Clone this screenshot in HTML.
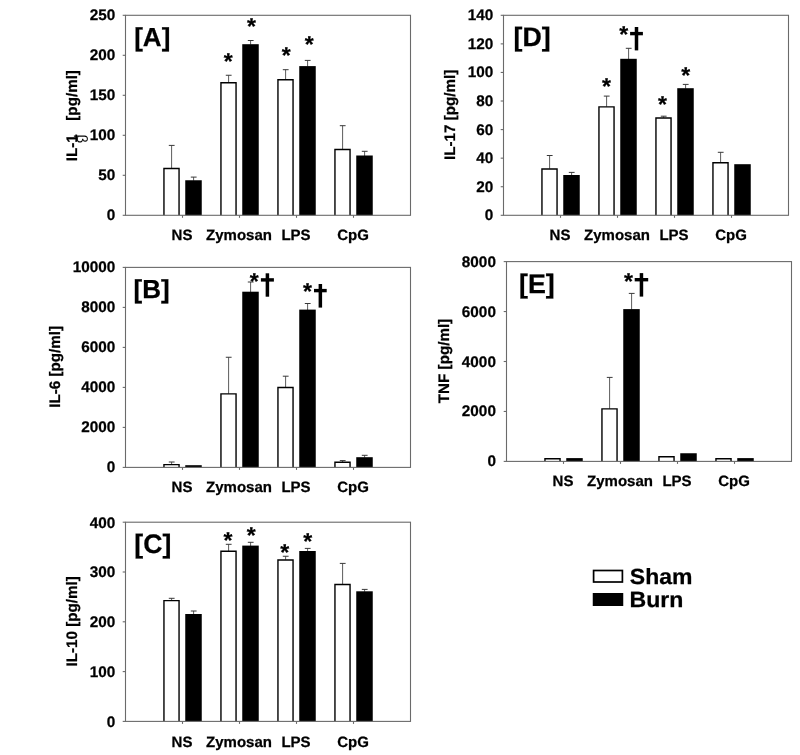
<!DOCTYPE html>
<html><head><meta charset="utf-8"><title>Figure</title>
<style>html,body{margin:0;padding:0;background:#fff}svg{display:block;filter:grayscale(1)}text{font-family:"Liberation Sans", sans-serif;font-weight:bold;fill:#000;text-rendering:geometricPrecision;stroke:#000;stroke-width:0.25px}.t15{font-size:15.3px}.xl{font-size:15px}.yl{font-size:15.2px}.t26{font-size:26px}.st{font-size:23px}.t22{font-size:22px}</style></head><body>
<svg width="800" height="755" viewBox="0 0 800 755">
<rect width="800" height="755" fill="#fff"/>
<line x1="122.7" y1="215.30" x2="125.5" y2="215.30" stroke="#6a6a6a" stroke-width="1.1"/>
<text x="115.2" y="220.30" text-anchor="end" class="t15">0</text>
<line x1="122.7" y1="175.30" x2="125.5" y2="175.30" stroke="#6a6a6a" stroke-width="1.1"/>
<text x="115.2" y="180.30" text-anchor="end" class="t15">50</text>
<line x1="122.7" y1="135.30" x2="125.5" y2="135.30" stroke="#6a6a6a" stroke-width="1.1"/>
<text x="115.2" y="140.30" text-anchor="end" class="t15">100</text>
<line x1="122.7" y1="95.30" x2="125.5" y2="95.30" stroke="#6a6a6a" stroke-width="1.1"/>
<text x="115.2" y="100.30" text-anchor="end" class="t15">150</text>
<line x1="122.7" y1="55.30" x2="125.5" y2="55.30" stroke="#6a6a6a" stroke-width="1.1"/>
<text x="115.2" y="60.30" text-anchor="end" class="t15">200</text>
<line x1="122.7" y1="15.30" x2="125.5" y2="15.30" stroke="#6a6a6a" stroke-width="1.1"/>
<text x="115.2" y="20.30" text-anchor="end" class="t15">250</text>
<line x1="182.5" y1="215.3" x2="182.5" y2="217.8" stroke="#6a6a6a" stroke-width="1.1"/>
<line x1="239.5" y1="215.3" x2="239.5" y2="217.8" stroke="#6a6a6a" stroke-width="1.1"/>
<line x1="296.5" y1="215.3" x2="296.5" y2="217.8" stroke="#6a6a6a" stroke-width="1.1"/>
<line x1="353.5" y1="215.3" x2="353.5" y2="217.8" stroke="#6a6a6a" stroke-width="1.1"/>
<text x="182.0" y="239.89999999999998" text-anchor="middle" class="xl">NS</text>
<text x="239.0" y="239.89999999999998" text-anchor="middle" class="xl">Zymosan</text>
<text x="296.0" y="239.89999999999998" text-anchor="middle" class="xl">LPS</text>
<text x="353.0" y="239.89999999999998" text-anchor="middle" class="xl">CpG</text>
<text transform="translate(134.2,46) scale(1.0000)" class="t26">[A]</text>
<text transform="translate(77.0,161.2) rotate(-90)" class="yl">IL-1</text>
<text transform="translate(77.0,120.7) rotate(-90)" class="yl">[pg/ml]</text>
<line x1="171.60" y1="145.4" x2="171.60" y2="168.25" stroke="#5c5c5c" stroke-width="1"/>
<line x1="168.80" y1="145.4" x2="174.60" y2="145.4" stroke="#383838" stroke-width="1"/>
<path d="M163.95 215.3V168.45H179.05V215.3" fill="#fff" stroke="#000" stroke-width="1.4"/>
<line x1="193.60" y1="177.1" x2="193.60" y2="180.75" stroke="#5c5c5c" stroke-width="1"/>
<line x1="190.80" y1="177.1" x2="196.60" y2="177.1" stroke="#383838" stroke-width="1"/>
<rect x="185.25" y="180.25" width="16.5" height="35.05" fill="#000"/>
<line x1="228.60" y1="75.25" x2="228.60" y2="82.5" stroke="#5c5c5c" stroke-width="1"/>
<line x1="225.80" y1="75.25" x2="231.60" y2="75.25" stroke="#383838" stroke-width="1"/>
<path d="M220.95 215.3V82.70H236.05V215.3" fill="#fff" stroke="#000" stroke-width="1.4"/>
<line x1="250.60" y1="40.5" x2="250.60" y2="44.7" stroke="#5c5c5c" stroke-width="1"/>
<line x1="247.80" y1="40.5" x2="253.60" y2="40.5" stroke="#383838" stroke-width="1"/>
<rect x="242.25" y="44.20" width="16.5" height="171.10" fill="#000"/>
<line x1="285.60" y1="69.7" x2="285.60" y2="79.5" stroke="#5c5c5c" stroke-width="1"/>
<line x1="282.80" y1="69.7" x2="288.60" y2="69.7" stroke="#383838" stroke-width="1"/>
<path d="M277.95 215.3V79.70H293.05V215.3" fill="#fff" stroke="#000" stroke-width="1.4"/>
<line x1="307.60" y1="60.4" x2="307.60" y2="66.6" stroke="#5c5c5c" stroke-width="1"/>
<line x1="304.80" y1="60.4" x2="310.60" y2="60.4" stroke="#383838" stroke-width="1"/>
<rect x="299.25" y="66.10" width="16.5" height="149.20" fill="#000"/>
<line x1="342.60" y1="125.7" x2="342.60" y2="149.3" stroke="#5c5c5c" stroke-width="1"/>
<line x1="339.80" y1="125.7" x2="345.60" y2="125.7" stroke="#383838" stroke-width="1"/>
<path d="M334.95 215.3V149.50H350.05V215.3" fill="#fff" stroke="#000" stroke-width="1.4"/>
<line x1="364.60" y1="151.3" x2="364.60" y2="156.0" stroke="#5c5c5c" stroke-width="1"/>
<line x1="361.80" y1="151.3" x2="367.60" y2="151.3" stroke="#383838" stroke-width="1"/>
<rect x="356.25" y="155.50" width="16.5" height="59.80" fill="#000"/>
<rect x="125.5" y="15.3" width="285.0" height="200.0" fill="none" stroke="#6a6a6a" stroke-width="1.1"/>
<text x="228.3" y="69.17" text-anchor="middle" class="st">*</text>
<text x="251.4" y="34.27" text-anchor="middle" class="st">*</text>
<text x="286.2" y="63.37" text-anchor="middle" class="st">*</text>
<text x="309.3" y="51.97" text-anchor="middle" class="st">*</text>
<line x1="500.7" y1="215.30" x2="503.5" y2="215.30" stroke="#6a6a6a" stroke-width="1.1"/>
<text x="493.2" y="220.30" text-anchor="end" class="t15">0</text>
<line x1="500.7" y1="186.73" x2="503.5" y2="186.73" stroke="#6a6a6a" stroke-width="1.1"/>
<text x="493.2" y="191.73" text-anchor="end" class="t15">20</text>
<line x1="500.7" y1="158.16" x2="503.5" y2="158.16" stroke="#6a6a6a" stroke-width="1.1"/>
<text x="493.2" y="163.16" text-anchor="end" class="t15">40</text>
<line x1="500.7" y1="129.59" x2="503.5" y2="129.59" stroke="#6a6a6a" stroke-width="1.1"/>
<text x="493.2" y="134.59" text-anchor="end" class="t15">60</text>
<line x1="500.7" y1="101.01" x2="503.5" y2="101.01" stroke="#6a6a6a" stroke-width="1.1"/>
<text x="493.2" y="106.01" text-anchor="end" class="t15">80</text>
<line x1="500.7" y1="72.44" x2="503.5" y2="72.44" stroke="#6a6a6a" stroke-width="1.1"/>
<text x="493.2" y="77.44" text-anchor="end" class="t15">100</text>
<line x1="500.7" y1="43.87" x2="503.5" y2="43.87" stroke="#6a6a6a" stroke-width="1.1"/>
<text x="493.2" y="48.87" text-anchor="end" class="t15">120</text>
<line x1="500.7" y1="15.30" x2="503.5" y2="15.30" stroke="#6a6a6a" stroke-width="1.1"/>
<text x="493.2" y="20.30" text-anchor="end" class="t15">140</text>
<line x1="560.5" y1="215.3" x2="560.5" y2="217.8" stroke="#6a6a6a" stroke-width="1.1"/>
<line x1="617.5" y1="215.3" x2="617.5" y2="217.8" stroke="#6a6a6a" stroke-width="1.1"/>
<line x1="674.5" y1="215.3" x2="674.5" y2="217.8" stroke="#6a6a6a" stroke-width="1.1"/>
<line x1="731.5" y1="215.3" x2="731.5" y2="217.8" stroke="#6a6a6a" stroke-width="1.1"/>
<text x="560.0" y="239.89999999999998" text-anchor="middle" class="xl">NS</text>
<text x="617.0" y="239.89999999999998" text-anchor="middle" class="xl">Zymosan</text>
<text x="674.0" y="239.89999999999998" text-anchor="middle" class="xl">LPS</text>
<text x="731.0" y="239.89999999999998" text-anchor="middle" class="xl">CpG</text>
<text transform="translate(513.5,46) scale(1.0269)" class="t26">[D]</text>
<text transform="translate(455.1,114.80000000000001) rotate(-90)" text-anchor="middle" class="yl">IL-17 [pg/ml]</text>
<line x1="549.60" y1="155.5" x2="549.60" y2="168.75" stroke="#5c5c5c" stroke-width="1"/>
<line x1="546.80" y1="155.5" x2="552.60" y2="155.5" stroke="#383838" stroke-width="1"/>
<path d="M541.95 215.3V168.95H557.05V215.3" fill="#fff" stroke="#000" stroke-width="1.4"/>
<line x1="571.60" y1="172.4" x2="571.60" y2="175.5" stroke="#5c5c5c" stroke-width="1"/>
<line x1="568.80" y1="172.4" x2="574.60" y2="172.4" stroke="#383838" stroke-width="1"/>
<rect x="563.25" y="175.00" width="16.5" height="40.30" fill="#000"/>
<line x1="606.60" y1="96.1" x2="606.60" y2="106.7" stroke="#5c5c5c" stroke-width="1"/>
<line x1="603.80" y1="96.1" x2="609.60" y2="96.1" stroke="#383838" stroke-width="1"/>
<path d="M598.95 215.3V106.90H614.05V215.3" fill="#fff" stroke="#000" stroke-width="1.4"/>
<line x1="628.60" y1="48.3" x2="628.60" y2="59.3" stroke="#5c5c5c" stroke-width="1"/>
<line x1="625.80" y1="48.3" x2="631.60" y2="48.3" stroke="#383838" stroke-width="1"/>
<rect x="620.25" y="58.80" width="16.5" height="156.50" fill="#000"/>
<line x1="663.60" y1="116.2" x2="663.60" y2="117.8" stroke="#5c5c5c" stroke-width="1"/>
<line x1="660.80" y1="116.2" x2="666.60" y2="116.2" stroke="#383838" stroke-width="1"/>
<path d="M655.95 215.3V118.00H671.05V215.3" fill="#fff" stroke="#000" stroke-width="1.4"/>
<line x1="685.60" y1="84.4" x2="685.60" y2="88.7" stroke="#5c5c5c" stroke-width="1"/>
<line x1="682.80" y1="84.4" x2="688.60" y2="84.4" stroke="#383838" stroke-width="1"/>
<rect x="677.25" y="88.20" width="16.5" height="127.10" fill="#000"/>
<line x1="720.60" y1="152.3" x2="720.60" y2="162.5" stroke="#5c5c5c" stroke-width="1"/>
<line x1="717.80" y1="152.3" x2="723.60" y2="152.3" stroke="#383838" stroke-width="1"/>
<path d="M712.95 215.3V162.70H728.05V215.3" fill="#fff" stroke="#000" stroke-width="1.4"/>
<rect x="734.25" y="164.20" width="16.5" height="51.10" fill="#000"/>
<rect x="503.5" y="15.3" width="285.0" height="200.0" fill="none" stroke="#6a6a6a" stroke-width="1.1"/>
<text x="606.5" y="94.47" text-anchor="middle" class="st">*</text>
<text x="623.7" y="42.07" text-anchor="middle" class="st">*</text>
<text x="662.6" y="112.02" text-anchor="middle" class="st">*</text>
<text x="685.8" y="82.67" text-anchor="middle" class="st">*</text>
<rect x="634.75" y="27.0" width="3.5" height="23.40" fill="#000"/>
<rect x="630.1" y="31.90" width="12.80" height="3.4" fill="#000"/>
<line x1="122.7" y1="467.40" x2="125.5" y2="467.40" stroke="#6a6a6a" stroke-width="1.1"/>
<text x="115.2" y="472.40" text-anchor="end" class="t15">0</text>
<line x1="122.7" y1="427.40" x2="125.5" y2="427.40" stroke="#6a6a6a" stroke-width="1.1"/>
<text x="115.2" y="432.40" text-anchor="end" class="t15">2000</text>
<line x1="122.7" y1="387.40" x2="125.5" y2="387.40" stroke="#6a6a6a" stroke-width="1.1"/>
<text x="115.2" y="392.40" text-anchor="end" class="t15">4000</text>
<line x1="122.7" y1="347.40" x2="125.5" y2="347.40" stroke="#6a6a6a" stroke-width="1.1"/>
<text x="115.2" y="352.40" text-anchor="end" class="t15">6000</text>
<line x1="122.7" y1="307.40" x2="125.5" y2="307.40" stroke="#6a6a6a" stroke-width="1.1"/>
<text x="115.2" y="312.40" text-anchor="end" class="t15">8000</text>
<line x1="122.7" y1="267.40" x2="125.5" y2="267.40" stroke="#6a6a6a" stroke-width="1.1"/>
<text x="115.2" y="272.40" text-anchor="end" class="t15">10000</text>
<line x1="182.5" y1="467.4" x2="182.5" y2="469.9" stroke="#6a6a6a" stroke-width="1.1"/>
<line x1="239.5" y1="467.4" x2="239.5" y2="469.9" stroke="#6a6a6a" stroke-width="1.1"/>
<line x1="296.5" y1="467.4" x2="296.5" y2="469.9" stroke="#6a6a6a" stroke-width="1.1"/>
<line x1="353.5" y1="467.4" x2="353.5" y2="469.9" stroke="#6a6a6a" stroke-width="1.1"/>
<text x="182.0" y="492.0" text-anchor="middle" class="xl">NS</text>
<text x="239.0" y="492.0" text-anchor="middle" class="xl">Zymosan</text>
<text x="296.0" y="492.0" text-anchor="middle" class="xl">LPS</text>
<text x="353.0" y="492.0" text-anchor="middle" class="xl">CpG</text>
<text transform="translate(133.6,298) scale(1.0000)" class="t26">[B]</text>
<text transform="translate(59.8,366.9) rotate(-90)" text-anchor="middle" class="yl">IL-6 [pg/ml]</text>
<line x1="171.60" y1="462" x2="171.60" y2="464.4" stroke="#5c5c5c" stroke-width="1"/>
<line x1="168.80" y1="462" x2="174.60" y2="462" stroke="#383838" stroke-width="1"/>
<path d="M163.95 467.4V464.60H179.05V467.4" fill="#fff" stroke="#000" stroke-width="1.4"/>
<rect x="185.25" y="465.20" width="16.5" height="2.20" fill="#000"/>
<line x1="228.60" y1="357.25" x2="228.60" y2="393.7" stroke="#5c5c5c" stroke-width="1"/>
<line x1="225.80" y1="357.25" x2="231.60" y2="357.25" stroke="#383838" stroke-width="1"/>
<path d="M220.95 467.4V393.90H236.05V467.4" fill="#fff" stroke="#000" stroke-width="1.4"/>
<line x1="250.60" y1="282" x2="250.60" y2="292.2" stroke="#5c5c5c" stroke-width="1"/>
<line x1="247.80" y1="282" x2="253.60" y2="282" stroke="#383838" stroke-width="1"/>
<rect x="242.25" y="291.70" width="16.5" height="175.70" fill="#000"/>
<line x1="285.60" y1="376.2" x2="285.60" y2="387.3" stroke="#5c5c5c" stroke-width="1"/>
<line x1="282.80" y1="376.2" x2="288.60" y2="376.2" stroke="#383838" stroke-width="1"/>
<path d="M277.95 467.4V387.50H293.05V467.4" fill="#fff" stroke="#000" stroke-width="1.4"/>
<line x1="307.60" y1="303.5" x2="307.60" y2="310.1" stroke="#5c5c5c" stroke-width="1"/>
<line x1="304.80" y1="303.5" x2="310.60" y2="303.5" stroke="#383838" stroke-width="1"/>
<rect x="299.25" y="309.60" width="16.5" height="157.80" fill="#000"/>
<line x1="342.60" y1="460.6" x2="342.60" y2="462.0" stroke="#5c5c5c" stroke-width="1"/>
<line x1="339.80" y1="460.6" x2="345.60" y2="460.6" stroke="#383838" stroke-width="1"/>
<path d="M334.95 467.4V462.20H350.05V467.4" fill="#fff" stroke="#000" stroke-width="1.4"/>
<line x1="364.60" y1="455.3" x2="364.60" y2="457.7" stroke="#5c5c5c" stroke-width="1"/>
<line x1="361.80" y1="455.3" x2="367.60" y2="455.3" stroke="#383838" stroke-width="1"/>
<rect x="356.25" y="457.20" width="16.5" height="10.20" fill="#000"/>
<rect x="125.5" y="267.4" width="285.0" height="200.0" fill="none" stroke="#6a6a6a" stroke-width="1.1"/>
<text x="254.3" y="288.87" text-anchor="middle" class="st">*</text>
<text x="307.5" y="299.27" text-anchor="middle" class="st">*</text>
<rect x="265.65" y="273.3" width="3.5" height="23.40" fill="#000"/>
<rect x="260.9" y="278.20" width="13.00" height="3.4" fill="#000"/>
<rect x="318.60" y="284" width="3.5" height="23.60" fill="#000"/>
<rect x="314" y="288.90" width="12.70" height="3.4" fill="#000"/>
<line x1="503.7" y1="461.40" x2="506.5" y2="461.40" stroke="#6a6a6a" stroke-width="1.1"/>
<text x="495.9" y="466.40" text-anchor="end" class="t15">0</text>
<line x1="503.7" y1="411.45" x2="506.5" y2="411.45" stroke="#6a6a6a" stroke-width="1.1"/>
<text x="495.9" y="416.45" text-anchor="end" class="t15">2000</text>
<line x1="503.7" y1="361.50" x2="506.5" y2="361.50" stroke="#6a6a6a" stroke-width="1.1"/>
<text x="495.9" y="366.50" text-anchor="end" class="t15">4000</text>
<line x1="503.7" y1="311.55" x2="506.5" y2="311.55" stroke="#6a6a6a" stroke-width="1.1"/>
<text x="495.9" y="316.55" text-anchor="end" class="t15">6000</text>
<line x1="503.7" y1="261.60" x2="506.5" y2="261.60" stroke="#6a6a6a" stroke-width="1.1"/>
<text x="495.9" y="266.60" text-anchor="end" class="t15">8000</text>
<line x1="563.5" y1="461.4" x2="563.5" y2="463.9" stroke="#6a6a6a" stroke-width="1.1"/>
<line x1="620.5" y1="461.4" x2="620.5" y2="463.9" stroke="#6a6a6a" stroke-width="1.1"/>
<line x1="677.5" y1="461.4" x2="677.5" y2="463.9" stroke="#6a6a6a" stroke-width="1.1"/>
<line x1="734.5" y1="461.4" x2="734.5" y2="463.9" stroke="#6a6a6a" stroke-width="1.1"/>
<text x="563.0" y="486.09999999999997" text-anchor="middle" class="xl">NS</text>
<text x="620.0" y="486.09999999999997" text-anchor="middle" class="xl">Zymosan</text>
<text x="677.0" y="486.09999999999997" text-anchor="middle" class="xl">LPS</text>
<text x="734.0" y="486.09999999999997" text-anchor="middle" class="xl">CpG</text>
<text transform="translate(519.0,292.7) scale(1.0308)" class="t26">[E]</text>
<text transform="translate(449.1,361.0) rotate(-90)" text-anchor="middle" class="yl">TNF [pg/ml]</text>
<path d="M544.95 461.4V458.80H560.05V461.4" fill="#fff" stroke="#000" stroke-width="1.4"/>
<rect x="566.25" y="458.10" width="16.5" height="3.30" fill="#000"/>
<line x1="609.60" y1="377.4" x2="609.60" y2="408.7" stroke="#5c5c5c" stroke-width="1"/>
<line x1="606.80" y1="377.4" x2="612.60" y2="377.4" stroke="#383838" stroke-width="1"/>
<path d="M601.95 461.4V408.90H617.05V461.4" fill="#fff" stroke="#000" stroke-width="1.4"/>
<line x1="631.60" y1="293.4" x2="631.60" y2="309.6" stroke="#5c5c5c" stroke-width="1"/>
<line x1="628.80" y1="293.4" x2="634.60" y2="293.4" stroke="#383838" stroke-width="1"/>
<rect x="623.25" y="309.10" width="16.5" height="152.30" fill="#000"/>
<path d="M658.95 461.4V456.70H674.05V461.4" fill="#fff" stroke="#000" stroke-width="1.4"/>
<rect x="680.25" y="453.25" width="16.5" height="8.15" fill="#000"/>
<path d="M715.95 461.4V458.80H731.05V461.4" fill="#fff" stroke="#000" stroke-width="1.4"/>
<rect x="737.25" y="458.10" width="16.5" height="3.30" fill="#000"/>
<rect x="506.5" y="261.6" width="285.0" height="199.79999999999995" fill="none" stroke="#6a6a6a" stroke-width="1.1"/>
<text x="628.5" y="288.67" text-anchor="middle" class="st">*</text>
<rect x="639.70" y="273.1" width="3.5" height="23.50" fill="#000"/>
<rect x="634.7" y="278.00" width="13.50" height="3.4" fill="#000"/>
<line x1="122.7" y1="721.40" x2="125.5" y2="721.40" stroke="#6a6a6a" stroke-width="1.1"/>
<text x="115.2" y="726.70" text-anchor="end" class="t15">0</text>
<line x1="122.7" y1="671.60" x2="125.5" y2="671.60" stroke="#6a6a6a" stroke-width="1.1"/>
<text x="115.2" y="676.90" text-anchor="end" class="t15">100</text>
<line x1="122.7" y1="621.80" x2="125.5" y2="621.80" stroke="#6a6a6a" stroke-width="1.1"/>
<text x="115.2" y="627.10" text-anchor="end" class="t15">200</text>
<line x1="122.7" y1="572.00" x2="125.5" y2="572.00" stroke="#6a6a6a" stroke-width="1.1"/>
<text x="115.2" y="577.30" text-anchor="end" class="t15">300</text>
<line x1="122.7" y1="522.20" x2="125.5" y2="522.20" stroke="#6a6a6a" stroke-width="1.1"/>
<text x="115.2" y="527.50" text-anchor="end" class="t15">400</text>
<line x1="182.5" y1="721.4" x2="182.5" y2="723.9" stroke="#6a6a6a" stroke-width="1.1"/>
<line x1="239.5" y1="721.4" x2="239.5" y2="723.9" stroke="#6a6a6a" stroke-width="1.1"/>
<line x1="296.5" y1="721.4" x2="296.5" y2="723.9" stroke="#6a6a6a" stroke-width="1.1"/>
<line x1="353.5" y1="721.4" x2="353.5" y2="723.9" stroke="#6a6a6a" stroke-width="1.1"/>
<text x="182.0" y="746.6" text-anchor="middle" class="xl">NS</text>
<text x="239.0" y="746.6" text-anchor="middle" class="xl">Zymosan</text>
<text x="296.0" y="746.6" text-anchor="middle" class="xl">LPS</text>
<text x="353.0" y="746.6" text-anchor="middle" class="xl">CpG</text>
<text transform="translate(134.3,552.6) scale(1.0269)" class="t26">[C]</text>
<text transform="translate(77.1,621.3) rotate(-90)" text-anchor="middle" class="yl">IL-10 [pg/ml]</text>
<line x1="171.60" y1="598.3" x2="171.60" y2="600.4" stroke="#5c5c5c" stroke-width="1"/>
<line x1="168.80" y1="598.3" x2="174.60" y2="598.3" stroke="#383838" stroke-width="1"/>
<path d="M163.95 721.4V600.60H179.05V721.4" fill="#fff" stroke="#000" stroke-width="1.4"/>
<line x1="193.60" y1="611" x2="193.60" y2="614.5" stroke="#5c5c5c" stroke-width="1"/>
<line x1="190.80" y1="611" x2="196.60" y2="611" stroke="#383838" stroke-width="1"/>
<rect x="185.25" y="614.00" width="16.5" height="107.40" fill="#000"/>
<line x1="228.60" y1="544.3" x2="228.60" y2="551.1" stroke="#5c5c5c" stroke-width="1"/>
<line x1="225.80" y1="544.3" x2="231.60" y2="544.3" stroke="#383838" stroke-width="1"/>
<path d="M220.95 721.4V551.30H236.05V721.4" fill="#fff" stroke="#000" stroke-width="1.4"/>
<line x1="250.60" y1="542.3" x2="250.60" y2="546.1" stroke="#5c5c5c" stroke-width="1"/>
<line x1="247.80" y1="542.3" x2="253.60" y2="542.3" stroke="#383838" stroke-width="1"/>
<rect x="242.25" y="545.60" width="16.5" height="175.80" fill="#000"/>
<line x1="285.60" y1="556.25" x2="285.60" y2="559.75" stroke="#5c5c5c" stroke-width="1"/>
<line x1="282.80" y1="556.25" x2="288.60" y2="556.25" stroke="#383838" stroke-width="1"/>
<path d="M277.95 721.4V559.95H293.05V721.4" fill="#fff" stroke="#000" stroke-width="1.4"/>
<line x1="307.60" y1="548.4" x2="307.60" y2="551.5" stroke="#5c5c5c" stroke-width="1"/>
<line x1="304.80" y1="548.4" x2="310.60" y2="548.4" stroke="#383838" stroke-width="1"/>
<rect x="299.25" y="551.00" width="16.5" height="170.40" fill="#000"/>
<line x1="342.60" y1="563.4" x2="342.60" y2="584.3" stroke="#5c5c5c" stroke-width="1"/>
<line x1="339.80" y1="563.4" x2="345.60" y2="563.4" stroke="#383838" stroke-width="1"/>
<path d="M334.95 721.4V584.50H350.05V721.4" fill="#fff" stroke="#000" stroke-width="1.4"/>
<line x1="364.60" y1="589.4" x2="364.60" y2="591.8" stroke="#5c5c5c" stroke-width="1"/>
<line x1="361.80" y1="589.4" x2="367.60" y2="589.4" stroke="#383838" stroke-width="1"/>
<rect x="356.25" y="591.30" width="16.5" height="130.10" fill="#000"/>
<rect x="125.5" y="522.2" width="285.0" height="199.19999999999993" fill="none" stroke="#6a6a6a" stroke-width="1.1"/>
<text x="228.1" y="548.07" text-anchor="middle" class="st">*</text>
<text x="251.3" y="542.77" text-anchor="middle" class="st">*</text>
<text x="284.7" y="560.37" text-anchor="middle" class="st">*</text>
<text x="307.75" y="548.87" text-anchor="middle" class="st">*</text>
<text transform="translate(77.4,134.5) rotate(90)" style="font-size:15px;font-weight:normal;stroke:none">β</text>
<rect x="593.6" y="570.5" width="28.8" height="11.5" fill="#fff" stroke="#000" stroke-width="1.7"/>
<rect x="592.75" y="593" width="30.5" height="13" fill="#000"/>
<text transform="translate(629.8,583.6) scale(1.045,1)" class="t22">Sham</text>
<text transform="translate(629.5,606.6) scale(1.05,1)" class="t22">Burn</text>
</svg></body></html>
